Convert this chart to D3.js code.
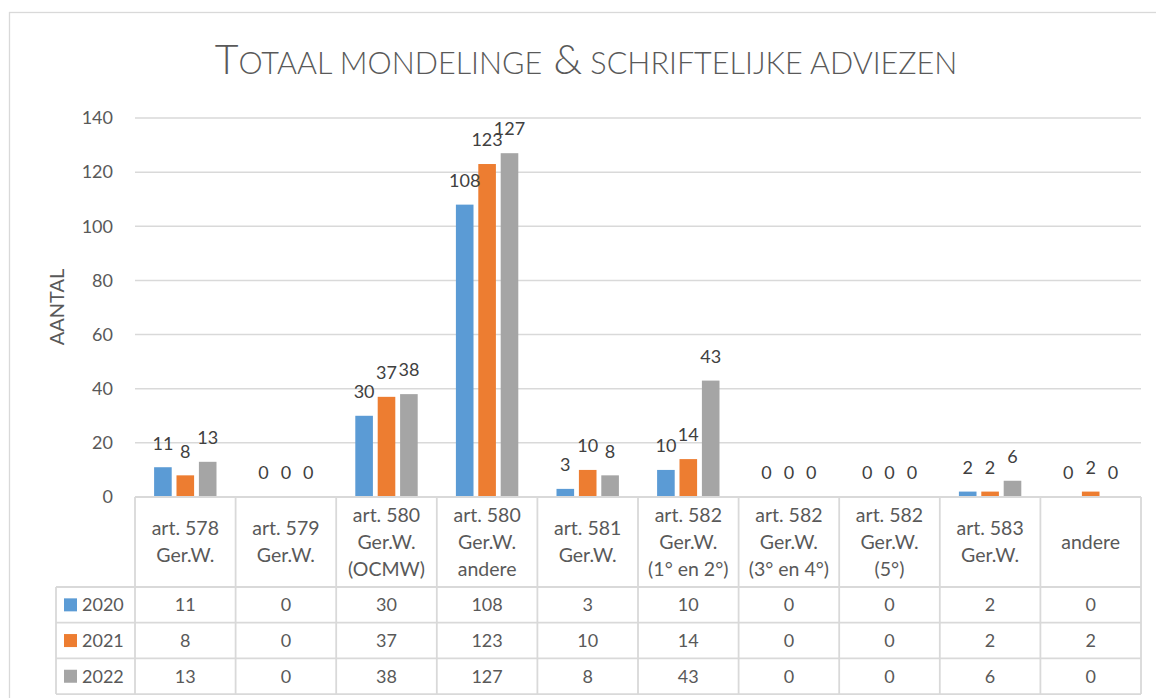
<!DOCTYPE html>
<html>
<head>
<meta charset="utf-8">
<script src="https://cdn.jsdelivr.net/npm/d3@7"></script>
<style>
  html, body { margin: 0; padding: 0; background: #fff; }
  svg { display: block; font-family: Lato, "Open Sans", sans-serif; }
</style>
</head>
<body>
<svg id="chart" width="1156" height="698"></svg>
<script>
// ---- data ----
const categories = [
  ["art. 578", "Ger.W."],
  ["art. 579", "Ger.W."],
  ["art. 580", "Ger.W.", "(OCMW)"],
  ["art. 580", "Ger.W.", "andere"],
  ["art. 581", "Ger.W."],
  ["art. 582", "Ger.W.", "(1° en 2°)"],
  ["art. 582", "Ger.W.", "(3° en 4°)"],
  ["art. 582", "Ger.W.", "(5°)"],
  ["art. 583", "Ger.W."],
  ["andere"]
];
const seriesNames = ["2020", "2021", "2022"];
const values2020 = [11, 0, 30, 108, 3, 10, 0, 0, 2, 0];
const values2021 = [8, 0, 37, 123, 10, 14, 0, 0, 2, 2];
const values2022 = [13, 0, 38, 127, 8, 43, 0, 0, 6, 0];
const yTicks = [0, 20, 40, 60, 80, 100, 120, 140];
const titleText = "Totaal mondelinge & schriftelijke adviezen";
const yAxisTitle = "AANTAL";

const seriesValues = [values2020, values2021, values2022];
const colors = ["#5B9BD5", "#ED7D31", "#A5A5A5"];

// ---- layout ----
const svg = d3.select("#chart");
const plotLeft = 135, plotRight = 1141, plotTop = 118, plotBottom = 497;
const legendLeft = 56;
const headerBottom = 587, rowH = 35.7;
const gridColor = "#D9D9D9";
const textColor = "#595959";
const labelColor = "#404040";

// outer border
svg.append("rect").attr("x", 9.5).attr("y", 12.5).attr("width", 1160).attr("height", 720)
  .attr("fill", "none").attr("stroke", gridColor).attr("stroke-width", 1.3);

const x = d3.scaleBand().domain(d3.range(categories.length)).range([plotLeft, plotRight]).padding(0);
const xs = d3.scaleBand().domain(seriesNames).range([-31.2, 31.2]).paddingInner(0.214).paddingOuter(0);
const y = d3.scaleLinear().domain([0, 140]).range([plotBottom, plotTop]);

// gridlines
svg.append("g").selectAll("line").data(yTicks.filter(t => t > 0)).join("line")
  .attr("x1", plotLeft).attr("x2", plotRight)
  .attr("y1", d => y(d)).attr("y2", d => y(d))
  .attr("stroke", gridColor).attr("stroke-width", 1.5);

// y axis labels
const yAxis = d3.axisLeft(y).tickValues(yTicks).tickSize(0).tickPadding(0);
const gy = svg.append("g").attr("transform", `translate(113,0)`).call(yAxis);
gy.select(".domain").remove();
gy.selectAll("text").attr("fill", textColor).style("font-size", "18px").attr("font-family", "Lato");

// y title
svg.append("text").attr("transform", `translate(64,307) rotate(-90)`)
  .attr("text-anchor", "middle").attr("fill", textColor).style("font-size", "20px")
  .text(yAxisTitle);

// title (small caps built manually)
const title = svg.append("text").attr("x", 586).attr("y", 73.5).attr("text-anchor", "middle")
  .attr("fill", textColor).style("font-weight", 300);
const words = titleText.split(" ");
words.forEach((w, i) => {
  const prefix = i > 0 ? " " : "";
  const first = w[0];
  const big = (i === 0) || first === "&";
  if (big) {
    title.append("tspan").style("font-size", "39px").text(prefix + first.toUpperCase());
    if (w.length > 1) title.append("tspan").style("font-size", "29px").text(w.slice(1).toUpperCase());
  } else {
    title.append("tspan").style("font-size", "29px").text(prefix + w.toUpperCase());
  }
});
// fit to the reference span
const tw = title.node().getComputedTextLength();
const targetW = 743;
if (Math.abs(tw - targetW) > 4) {
  const k = targetW / tw;
  title.selectAll("tspan").each(function() {
    const s = parseFloat(this.style.fontSize);
    d3.select(this).style("font-size", (s * k) + "px");
  });
}

// bars
const gBars = svg.append("g");
seriesNames.forEach((s, si) => {
  gBars.append("g").selectAll("rect").data(seriesValues[si]).join("rect")
    .attr("x", (d, i) => x(i) + x.bandwidth() / 2 + xs(s))
    .attr("width", xs.bandwidth())
    .attr("y", d => y(d))
    .attr("height", d => y(0) - y(d))
    .attr("fill", colors[si]);
});

// data labels
seriesNames.forEach((s, si) => {
  svg.append("g").selectAll("text").data(seriesValues[si]).join("text")
    .attr("x", (d, i) => x(i) + x.bandwidth() / 2 + xs(s) + xs.bandwidth() / 2)
    .attr("y", d => y(d) - 24)
    .attr("dy", "0.35em")
    .attr("text-anchor", "middle")
    .attr("fill", labelColor)
    .style("font-size", "18px")
    .text(d => d);
});

// ---- data table ----
const gT = svg.append("g");
const tableBottom = headerBottom + rowH * 3;
// horizontal lines
gT.append("line").attr("x1", plotLeft).attr("x2", plotRight).attr("y1", plotBottom).attr("y2", plotBottom)
  .attr("stroke", gridColor).attr("stroke-width", 1.8);
d3.range(4).forEach(r => {
  const yy = headerBottom + r * rowH;
  gT.append("line").attr("x1", legendLeft).attr("x2", plotRight).attr("y1", yy).attr("y2", yy)
    .attr("stroke", gridColor).attr("stroke-width", 1.8);
});
// vertical lines
gT.append("line").attr("x1", legendLeft).attr("x2", legendLeft).attr("y1", headerBottom).attr("y2", tableBottom)
  .attr("stroke", gridColor).attr("stroke-width", 1.8);
gT.selectAll("line.v").data(d3.range(categories.length + 1)).join("line").attr("class", "v")
  .attr("x1", i => i < categories.length ? x(i) : plotRight)
  .attr("x2", i => i < categories.length ? x(i) : plotRight)
  .attr("y1", plotBottom).attr("y2", tableBottom)
  .attr("stroke", gridColor).attr("stroke-width", 1.8);

// category labels
const headerMid = (plotBottom + headerBottom) / 2;
categories.forEach((lines, i) => {
  const t = gT.append("text").attr("text-anchor", "middle").attr("fill", textColor).style("font-size", "19.5px");
  const lh = 27.3;
  const y0 = headerMid - (lines.length - 1) * lh / 2;
  lines.forEach((ln, k) => {
    t.append("tspan").attr("x", x(i) + x.bandwidth() / 2).attr("y", y0 + k * lh).attr("dy", "0.35em").text(ln);
  });
});

// rows
seriesNames.forEach((s, si) => {
  const cy = headerBottom + si * rowH + rowH / 2;
  gT.append("rect").attr("x", 64).attr("y", cy - 6.5).attr("width", 13).attr("height", 13).attr("fill", colors[si]);
  gT.append("text").attr("x", 82).attr("y", cy).attr("dy", "0.35em").attr("fill", textColor)
    .style("font-size", "18px").text(s);
  gT.append("g").selectAll("text").data(seriesValues[si]).join("text")
    .attr("x", (d, i) => x(i) + x.bandwidth() / 2)
    .attr("y", cy).attr("dy", "0.35em")
    .attr("text-anchor", "middle").attr("fill", textColor)
    .style("font-size", "18px").text(d => d);
});
</script>
</body>
</html>
